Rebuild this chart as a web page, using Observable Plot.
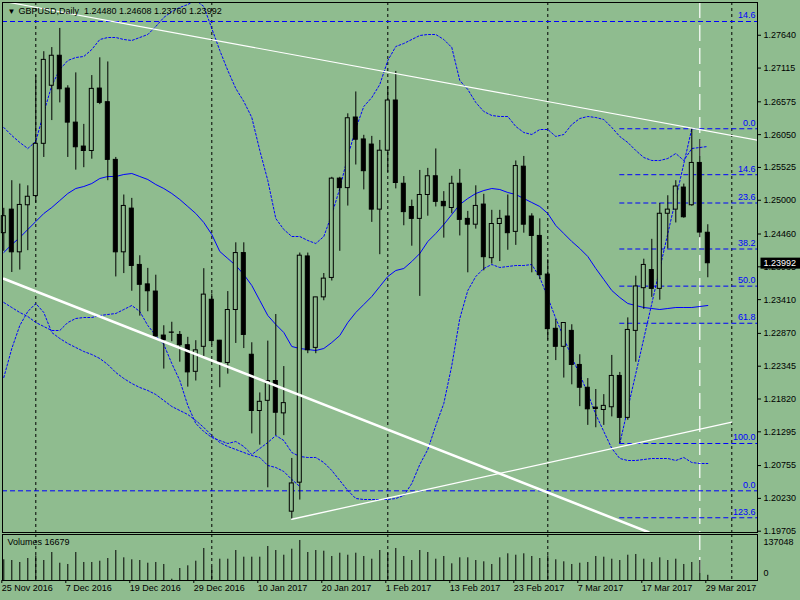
<!DOCTYPE html>
<html><head><meta charset="utf-8">
<script src="https://cdn.jsdelivr.net/npm/d3@7"></script>
<script src="https://cdn.jsdelivr.net/npm/@observablehq/plot@0.6"></script>
<style>
html,body{margin:0;padding:0;background:#8fbc8f;}
#wrap{position:relative;width:800px;height:600px;background:#8fbc8f;overflow:hidden;}
#wrap svg{position:absolute;left:0;overflow:visible;}
</style></head><body><div id="wrap"></div>
<script>
const symbol = "GBPUSD,Daily";
const opens  = [1.24473,1.24850,1.24167,1.24920,1.25067,1.25903,1.26832,1.27312,1.26787,1.26242,1.25859,1.25788,1.26787,1.26569,1.25646,1.24167,1.24866,1.23965,1.23654,1.23539,1.22835,1.22884,1.22845,1.22681,1.22255,1.22655,1.23408,1.22753,1.22397,1.23244,1.24155,1.22528,1.21628,1.21791,1.22108,1.21590,1.20017,1.20481,1.24101,1.22638,1.23446,1.23757,1.25346,1.25194,1.26324,1.25973,1.25891,1.24850,1.25793,1.26596,1.25264,1.24892,1.24702,1.25084,1.25384,1.24974,1.24876,1.25264,1.24702,1.24609,1.24931,1.24073,1.24620,1.24740,1.24494,1.25537,1.24740,1.24429,1.23811,1.22943,1.22655,1.22910,1.22365,1.22000,1.21682,1.21644,1.21688,1.22189,1.21518,1.22910,1.23593,1.23883,1.23582,1.24784,1.24850,1.25203,1.24920,1.25597,1.24480];
const highs  = [1.24871,1.25313,1.25259,1.25231,1.27000,1.27377,1.27443,1.27749,1.26832,1.27038,1.26214,1.26995,1.27279,1.27213,1.25685,1.25084,1.25030,1.24112,1.23910,1.23801,1.22992,1.23048,1.22900,1.22807,1.22753,1.23905,1.23500,1.22758,1.23539,1.24319,1.24319,1.22720,1.21917,1.22746,1.23172,1.22339,1.20869,1.24155,1.24155,1.23446,1.23828,1.25367,1.25367,1.26383,1.26733,1.26039,1.26022,1.25957,1.26815,1.27061,1.25379,1.25002,1.25477,1.25510,1.25821,1.25138,1.25384,1.25493,1.24822,1.25231,1.25095,1.24839,1.24839,1.25084,1.25629,1.25701,1.24784,1.24702,1.24047,1.23090,1.23036,1.23008,1.22528,1.22147,1.21972,1.21890,1.22517,1.22245,1.23118,1.23785,1.24057,1.24375,1.24948,1.25072,1.25313,1.25259,1.26144,1.25968,1.24608];
const lows   = [1.24183,1.23844,1.23883,1.24194,1.24953,1.25685,1.26275,1.26558,1.25685,1.25482,1.25521,1.25657,1.26530,1.25313,1.23773,1.23827,1.23544,1.23146,1.23216,1.22818,1.22299,1.22736,1.22409,1.22010,1.22108,1.22491,1.22681,1.22000,1.22218,1.22709,1.22627,1.21262,1.21082,1.20399,1.21234,1.21234,1.19896,1.20203,1.22545,1.22545,1.23392,1.23708,1.24183,1.24907,1.25564,1.25166,1.24646,1.24129,1.25444,1.25182,1.24592,1.24265,1.23462,1.24745,1.24892,1.24394,1.24784,1.24429,1.23839,1.24538,1.23872,1.23979,1.24019,1.24200,1.24278,1.24473,1.23839,1.23729,1.22763,1.22435,1.22155,1.22047,1.21698,1.21398,1.21360,1.21398,1.21534,1.21108,1.21480,1.22409,1.23254,1.23446,1.23401,1.24220,1.24637,1.24712,1.24904,1.24401,1.23760];
const closes = [1.24745,1.24167,1.24925,1.25056,1.25903,1.27246,1.27312,1.26776,1.26242,1.25848,1.25788,1.26782,1.26558,1.25646,1.24167,1.24909,1.23949,1.23647,1.23544,1.22818,1.22763,1.22880,1.22681,1.22246,1.22599,1.23490,1.22747,1.22409,1.23244,1.24155,1.22845,1.21628,1.21775,1.22108,1.21600,1.21754,1.20469,1.24113,1.22599,1.23446,1.23746,1.25346,1.25194,1.26312,1.25968,1.25465,1.24850,1.25793,1.26596,1.25276,1.24810,1.24702,1.25084,1.25384,1.24974,1.24904,1.25264,1.24686,1.24609,1.24909,1.24089,1.24620,1.24702,1.24473,1.25547,1.24609,1.24429,1.23802,1.22938,1.22655,1.23036,1.22365,1.22000,1.21655,1.21660,1.21710,1.22189,1.21518,1.22925,1.23621,1.23965,1.23582,1.24784,1.24850,1.25220,1.24728,1.25597,1.24483,1.23992];
const volumes = [66000,63700,57400,70100,78700,63700,89200,55100,51000,89200,57400,57400,61500,70100,95600,72300,66000,63700,55100,57400,51000,4100,38200,46800,61500,102000,42400,67900,67900,95600,74300,74300,74300,108400,95600,80600,99800,127500,89200,95600,93400,76500,87000,80600,87000,76500,67900,95600,87000,102000,76500,63700,95600,89200,67900,76500,53200,72300,72300,63700,59600,51000,72300,85100,80600,85100,76500,70100,78700,66000,59600,51000,55100,57400,76500,74300,67900,63700,80600,82900,67900,57400,72300,63700,67900,51000,57400,63700,16679];
const bbUpper = [1.26164,1.26036,1.25924,1.25828,1.25940,1.26404,1.26836,1.27092,1.27236,1.27284,1.27300,1.27412,1.27572,1.27604,1.27604,1.27572,1.27556,1.27604,1.27652,1.27780,1.27924,1.28020,1.28084,1.28132,1.28200,1.28100,1.27748,1.27396,1.27076,1.26788,1.26580,1.26324,1.25796,1.25316,1.24708,1.24532,1.24420,1.24420,1.24356,1.24308,1.24420,1.24772,1.25188,1.25700,1.26148,1.26500,1.26644,1.26852,1.27236,1.27460,1.27508,1.27572,1.27636,1.27652,1.27652,1.27572,1.27444,1.26916,1.26772,1.26564,1.26420,1.26356,1.26340,1.26340,1.26180,1.26084,1.26052,1.26132,1.26132,1.26020,1.26052,1.26212,1.26308,1.26340,1.26324,1.26292,1.26164,1.26020,1.25924,1.25796,1.25684,1.25636,1.25636,1.25668,1.25748,1.25636,1.25828,1.25844,1.25860];
const bbMiddle = [1.24164,1.24292,1.24404,1.24532,1.24660,1.24788,1.24884,1.24996,1.25108,1.25188,1.25220,1.25268,1.25348,1.25380,1.25380,1.25412,1.25428,1.25380,1.25332,1.25252,1.25188,1.25108,1.25012,1.24900,1.24788,1.24644,1.24452,1.24180,1.24068,1.23956,1.23812,1.23636,1.23396,1.23156,1.23012,1.22884,1.22660,1.22628,1.22612,1.22596,1.22628,1.22724,1.22836,1.23044,1.23204,1.23332,1.23460,1.23620,1.23780,1.23876,1.23908,1.24020,1.24148,1.24340,1.24468,1.24612,1.24772,1.24932,1.25028,1.25108,1.25156,1.25188,1.25172,1.25124,1.25092,1.25028,1.24964,1.24900,1.24788,1.24596,1.24468,1.24340,1.24228,1.24100,1.23908,1.23732,1.23556,1.23444,1.23348,1.23316,1.23284,1.23268,1.23252,1.23268,1.23284,1.23284,1.23284,1.23300,1.23316];
const bbLower = [1.23364,1.23284,1.23204,1.23140,1.23044,1.22980,1.22916,1.22916,1.23044,1.23108,1.23124,1.23124,1.23156,1.23172,1.23188,1.23252,1.23316,1.23220,1.22996,1.22836,1.22692,1.22388,1.22116,1.21716,1.21428,1.21300,1.21204,1.21156,1.21108,1.21140,1.21060,1.20932,1.21028,1.21124,1.21236,1.21156,1.20964,1.20900,1.20884,1.20884,1.20804,1.20676,1.20516,1.20356,1.20228,1.20212,1.20212,1.20212,1.20212,1.20228,1.20276,1.20468,1.20772,1.21012,1.21396,1.21748,1.22356,1.23108,1.23556,1.23780,1.23908,1.23972,1.23924,1.23940,1.23956,1.23956,1.23972,1.23764,1.23444,1.23108,1.22804,1.22484,1.22212,1.21908,1.21572,1.21300,1.21028,1.20868,1.20836,1.20836,1.20852,1.20868,1.20868,1.20868,1.20836,1.20884,1.20804,1.20788,1.20788];
const bb2Lower = [1.22164,1.22628,1.22996,1.23220,1.23348,1.23204,1.22884,1.22788,1.22708,1.22644,1.22580,1.22532,1.22468,1.22372,1.22244,1.22148,1.22068,1.22004,1.21956,1.21892,1.21796,1.21700,1.21636,1.21572,1.21476,1.21364,1.21236,1.21124,1.21060,1.21012,1.20964,1.20916,1.20884,1.20756,1.20724,1.20660,1.20532,1.20420];
const priceTicks = [1.27640,1.27115,1.26575,1.26050,1.25525,1.25000,1.24460,1.23935,1.23410,1.22870,1.22345,1.21820,1.21295,1.20755,1.20230,1.19705];
const dateIdx = [0,8,16,24,32,40,48,56,64,72,80,88];
const dateLabels = ["25 Nov 2016","7 Dec 2016","19 Dec 2016","29 Dec 2016","10 Jan 2017","20 Jan 2017","1 Feb 2017","13 Feb 2017","23 Feb 2017","7 Mar 2017","17 Mar 2017","29 Mar 2017"];
const monthGridIdx = [4,26,48,68,91];
const markerIdx = 87;
const fib1Labels = ["14.6","0.0"];
const fib1Prices = [1.27860,1.20351];
const fib2Labels = ["0.0","14.6","23.6","38.2","50.0","61.8","100.0","123.6"];
const fib2Prices = [1.26144,1.25409,1.24956,1.24220,1.23626,1.23032,1.21108,1.19920];
const fib2AnchorIdx = [77,86];
const fib2AnchorPrice = [1.21108,1.26144];
const trendUpperIdx = [0,94.2125], trendUpperPrice = [1.28181,1.25961];
const trendThickIdx = [0,80.6], trendThickPrice = [1.23743,1.19689];
const trendRiseIdx = [36,91], trendRisePrice = [1.19896,1.21449];
const volumeMax = 137048;

const BG = "#8fbc8f", BLUE = "#0000ff";
const candles = opens.map((o,i)=>({i, o, h:highs[i], l:lows[i], c:closes[i], v:volumes[i],
  up:bbUpper[i], mid:bbMiddle[i], low:bbLower[i]}));
const env = bb2Lower.map((p,i)=>({i, p}));
const pts = (ix, pr) => ix.map((x,k)=>({i:x, p:pr[k]}));
const xDomain = [-0.1625, 94.2125];
const font = {fontFamily:"'Liberation Sans', Arial, sans-serif", fontSize:"9px", background:"transparent", color:"black", overflow:"visible"};

const main = Plot.plot({
  width:800, height:534, marginTop:2, marginBottom:2, marginLeft:2, marginRight:43,
  x:{domain:xDomain, axis:null},
  y:{domain:[1.19684,1.28164]},
  color:{type:"identity"},
  style:font,
  marks:[
    Plot.ruleX(monthGridIdx, {x:d=>d, stroke:"black", strokeDasharray:"3,3", strokeWidth:1}),
    Plot.ruleX([markerIdx], {x:d=>d, stroke:"white", strokeDasharray:"16,7", strokeWidth:1.2}),
    Plot.ruleY(fib1Prices, {y:d=>d, stroke:BLUE, strokeDasharray:"5,3", strokeWidth:1}),
    Plot.text(fib1Prices, {y:d=>d, text:(d,i)=>fib1Labels[i], frameAnchor:"right", dx:-2, dy:-6, textAnchor:"end", fill:BLUE}),
    Plot.ruleY(fib2Prices, {y:d=>d, x1:()=>fib2AnchorIdx[0], x2:()=>xDomain[1], stroke:BLUE, strokeDasharray:"5,3", strokeWidth:1}),
    Plot.text(fib2Prices, {y:d=>d, text:(d,i)=>fib2Labels[i], frameAnchor:"right", dx:-2, dy:-6, textAnchor:"end", fill:BLUE}),
    Plot.line(pts(fib2AnchorIdx, fib2AnchorPrice), {x:"i", y:"p", stroke:BLUE, strokeDasharray:"2,2", strokeWidth:1}),
    Plot.line(candles, {x:"i", y:"up", stroke:BLUE, strokeDasharray:"2,2", strokeWidth:1, clip:true}),
    Plot.line(candles, {x:"i", y:"low", stroke:BLUE, strokeDasharray:"2,2", strokeWidth:1, clip:true}),
    Plot.line(env, {x:"i", y:"p", stroke:BLUE, strokeDasharray:"2,2", strokeWidth:1, clip:true}),
    Plot.line(candles, {x:"i", y:"mid", stroke:BLUE, strokeWidth:1, clip:true}),
    Plot.ruleX(candles, {x:"i", y1:"l", y2:"h", stroke:"black", strokeWidth:1}),
    Plot.rect(candles, {x1:d=>d.i-0.25, x2:d=>d.i+0.25, y1:"o", y2:"c", fill:d=>d.c>=d.o?BG:"black", stroke:"black", strokeWidth:1}),
    Plot.line(pts(trendUpperIdx, trendUpperPrice), {x:"i", y:"p", stroke:"white", strokeWidth:1.2, clip:true}),
    Plot.line(pts(trendThickIdx, trendThickPrice), {x:"i", y:"p", stroke:"white", strokeWidth:2.6, clip:true}),
    Plot.line(pts(trendRiseIdx, trendRisePrice), {x:"i", y:"p", stroke:"white", strokeWidth:1.3, clip:true}),
    Plot.frame({stroke:"black", strokeWidth:1}),
    Plot.axisY({anchor:"right", ticks:priceTicks, tickFormat:d=>d.toFixed(5), tickSize:3, tickPadding:3, label:null}),
    Plot.text([closes[closes.length-1]], {y:d=>d, text:d=>d.toFixed(5), frameAnchor:"right", dx:6, textAnchor:"start", fill:"white"}),
    Plot.text(["\u25BC"], {frameAnchor:"top-left", dx:5, dy:9, textAnchor:"start", lineAnchor:"middle", fontSize:8}),
    Plot.text([`${symbol}\u00a0\u00a0${opens[88].toFixed(5)} ${highs[88].toFixed(5)} ${lows[88].toFixed(5)} ${closes[88].toFixed(5)}`], {frameAnchor:"top-left", dx:16, dy:9, textAnchor:"start", lineAnchor:"middle"})
  ]
});

const vol = Plot.plot({
  width:800, height:68, marginTop:2, marginBottom:20, marginLeft:2, marginRight:43,
  x:{domain:xDomain},
  y:{domain:[0,146600], axis:null},
  style:font,
  marks:[
    Plot.ruleX(monthGridIdx, {x:d=>d, stroke:"black", strokeDasharray:"3,3", strokeWidth:1}),
    Plot.ruleX([markerIdx], {x:d=>d, stroke:"white", strokeDasharray:"16,7", strokeWidth:1.2}),
    Plot.ruleX(candles, {x:"i", y:"v", stroke:"black", strokeWidth:1}),
    Plot.frame({stroke:"black", strokeWidth:1}),
    Plot.text([`Volumes ${volumes[88]}`], {frameAnchor:"top-left", dx:5, dy:8, textAnchor:"start", lineAnchor:"middle"}),
    Plot.text([volumeMax], {y:d=>d, text:d=>String(d), frameAnchor:"right", dx:6, dy:5, textAnchor:"start"}),
    Plot.text([0], {y:d=>d, text:d=>String(d), frameAnchor:"right", dx:6, dy:-7, textAnchor:"start"}),
    Plot.axisX({ticks:dateIdx, tickFormat:d=>dateLabels[dateIdx.indexOf(d)], tickSize:3, tickPadding:1, textAnchor:"start", dx:-2, label:null})
  ]
});

const wrap = document.getElementById("wrap");
main.style.top = "0px"; vol.style.top = "532px";
wrap.append(main, vol);

// black price tag behind the last close label
const tagText = closes[closes.length-1].toFixed(5);
const tag = [...main.querySelectorAll("text")].find(t => t.textContent === tagText);
if (tag) {
  const bb = tag.getBBox();
  const r = document.createElementNS("http://www.w3.org/2000/svg", "rect");
  r.setAttribute("x", bb.x - 3); r.setAttribute("y", bb.y - 0.5);
  r.setAttribute("width", bb.width + 10); r.setAttribute("height", bb.height + 1);
  r.setAttribute("fill", "black");
  const tr = tag.getAttribute("transform"); if (tr) r.setAttribute("transform", tr);
  tag.parentNode.insertBefore(r, tag);
}
</script></body></html>
